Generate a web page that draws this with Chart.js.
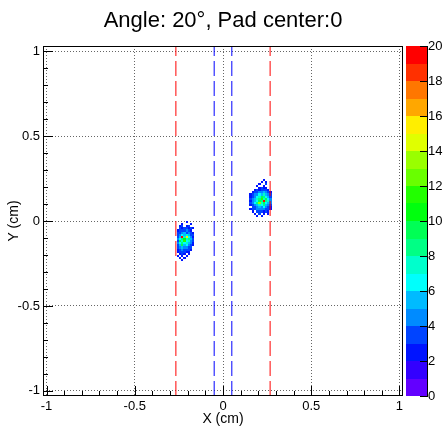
<!DOCTYPE html>
<html>
<head>
<meta charset="utf-8">
<script src="https://cdn.jsdelivr.net/npm/chart.js@4"></script>
<style>
  body { margin: 0; background: #fff; }
  canvas { display: block; }
</style>
</head>
<body>
<canvas id="hist" width="446" height="426"></canvas>
<script>
// -------------------------------
// 1. Histogram data
// -------------------------------
const TITLE = 'Angle: 20°, Pad center:0';
const X_TICKS = [-1, -0.5, 0, 0.5, 1];
const Y_TICKS = [-1, -0.5, 0, 0.5, 1];
const Z_TICKS = [0, 2, 4, 6, 8, 10, 12, 14, 16, 18, 20];
const Z_MAX = 20;
const BIN = 0.0125;  // bin width in cm, both axes

// pad borders (red) and pad center strip (blue), in cm
const padEdges = [-0.267, 0.267];
const centerEdges = [-0.05, 0.05];

// left spot: top-left bin corner (cm) and counts, rows going down in Y
const spotLeftCorner = [-0.2625, 0];
const spotLeftCounts = [
  [0, 0, 0, 0, 2, 0, 0, 0],
  [0, 0, 2, 0, 0, 0, 2, 0],
  [0, 2, 3, 0, 2, 3, 0, 0],
  [0, 3, 2, 3, 3, 2, 3, 2],
  [2, 3, 3, 3, 4, 3, 2, 0],
  [3, 3, 4, 5, 3, 4, 3, 2],
  [3, 4, 6, 5, 7, 5, 3, 3],
  [3, 5, 19, 7, 15, 6, 4, 2],
  [4, 6, 8, 10, 7, 8, 5, 3],
  [3, 9, 7, 11, 6, 7, 4, 3],
  [4, 6, 8, 6, 7, 5, 4, 2],
  [3, 5, 9, 5, 6, 4, 3, 2],
  [3, 4, 5, 4, 4, 3, 3, 0],
  [2, 3, 4, 3, 3, 3, 2, 0],
  [2, 3, 3, 3, 2, 2, 0, 0],
  [0, 2, 3, 2, 0, 2, 0, 0],
  [2, 0, 2, 0, 2, 0, 0, 0],
  [0, 2, 0, 2, 0, 0, 0, 0],
  [0, 0, 2, 0, 0, 0, 0, 0]
];

// right spot
const spotRightCorner = [0.15, 0.25];
const spotRightCounts = [
  [0, 0, 0, 0, 0, 0, 2, 0, 0, 0],
  [0, 0, 0, 0, 0, 2, 0, 2, 0, 0],
  [0, 0, 0, 0, 2, 0, 0, 3, 0, 0],
  [0, 0, 0, 2, 0, 0, 2, 0, 0, 0],
  [0, 0, 0, 0, 2, 3, 2, 2, 0, 0],
  [0, 0, 2, 3, 2, 3, 3, 3, 2, 0],
  [0, 2, 3, 3, 4, 4, 5, 4, 3, 2],
  [2, 3, 4, 4, 6, 5, 7, 5, 4, 3],
  [2, 3, 4, 6, 7, 9, 8, 6, 5, 3],
  [3, 4, 5, 7, 8, 11, 7, 9, 6, 4],
  [2, 4, 5, 6, 9, 8, 19, 8, 7, 4],
  [3, 4, 6, 8, 13, 7, 9, 6, 5, 4],
  [2, 3, 4, 5, 7, 6, 8, 5, 4, 3],
  [0, 3, 3, 4, 5, 4, 6, 4, 3, 2],
  [2, 3, 3, 4, 4, 4, 4, 3, 3, 2],
  [0, 2, 0, 3, 3, 3, 2, 3, 2, 0],
  [0, 0, 2, 0, 3, 0, 2, 0, 2, 0],
  [0, 0, 0, 2, 0, 2, 0, 0, 0, 0]
];

const X_RANGE = [-1.02, 1.02];
const Y_RANGE = [-1.03, 1.03];

// -------------------------------
// 2. Colour palette (violet -> red, 20 levels)
// -------------------------------
function levelColor(level) {
  const idx = Math.floor((level + 0.99) * 50 / Z_MAX);
  const hue = 280 - (idx + 1) * 5.6;
  return `hsl(${hue}, 100%, 50%)`;
}
function countColor(v) {
  return levelColor(Math.min(Z_MAX - 1, Math.floor(v + 0.01)));
}

// -------------------------------
// 3. Plugins: cells, frame + ticks, palette bar
// -------------------------------
const histCells = {
  id: 'histCells',
  beforeDatasetsDraw(chart) {
    const { ctx, scales: { x, y } } = chart;
    ctx.save();
    [[spotLeftCorner, spotLeftCounts], [spotRightCorner, spotRightCounts]].forEach(([corner, rows]) => {
      rows.forEach((row, r) => {
        row.forEach((v, c) => {
          if (v <= 0) return;
          const xa = Math.round(x.getPixelForValue(corner[0] + c * BIN));
          const xb = Math.round(x.getPixelForValue(corner[0] + (c + 1) * BIN));
          const ya = Math.round(y.getPixelForValue(corner[1] - r * BIN));
          const yb = Math.round(y.getPixelForValue(corner[1] - (r + 1) * BIN));
          ctx.fillStyle = countColor(v);
          ctx.fillRect(xa, ya, xb - xa, yb - ya);
        });
      });
    });
    ctx.restore();
  }
};

const frameTicks = {
  id: 'frameTicks',
  afterDatasetsDraw(chart) {
    const { ctx, chartArea: a, scales: { x, y } } = chart;
    ctx.save();
    ctx.strokeStyle = '#000';
    ctx.lineWidth = 1;
    ctx.strokeRect(a.left + 0.5, a.top + 0.5, a.right - a.left - 1, a.bottom - a.top - 1);
    ctx.beginPath();
    for (let i = -10; i <= 10; i++) {
      const v = i / 10;
      const len = i % 5 === 0 ? 10 : 5;
      const px = Math.round(x.getPixelForValue(v)) + 0.5;
      ctx.moveTo(px, a.bottom);
      ctx.lineTo(px, a.bottom - len);
      const py = Math.round(y.getPixelForValue(v)) + 0.5;
      ctx.moveTo(a.left, py);
      ctx.lineTo(a.left + len, py);
    }
    ctx.stroke();
    ctx.restore();
  }
};

const paletteBar = {
  id: 'paletteBar',
  afterDraw(chart) {
    const { ctx } = chart;
    const z = chart.scales.z;
    const x0 = z.left + 3, x1 = z.left + 24;
    ctx.save();
    for (let j = 0; j < Z_MAX; j++) {
      const ya = Math.round(z.getPixelForValue(j));
      const yb = Math.round(z.getPixelForValue(j + 1));
      ctx.fillStyle = levelColor(j);
      ctx.fillRect(x0, yb, x1 - x0, ya - yb);
    }
    ctx.strokeStyle = '#000';
    ctx.lineWidth = 1;
    ctx.beginPath();
    ctx.moveTo(x1 + 0.5, Math.round(z.getPixelForValue(0)));
    ctx.lineTo(x1 + 0.5, Math.round(z.getPixelForValue(Z_MAX)));
    Z_TICKS.forEach(v => {
      const py = Math.round(z.getPixelForValue(v)) + 0.5;
      ctx.moveTo(x1 - 7, py);
      ctx.lineTo(x1 + 1, py);
    });
    ctx.stroke();
    ctx.restore();
  }
};

// -------------------------------
// 4. Chart
// -------------------------------
Chart.defaults.font.family = "'Liberation Sans', Arial, Helvetica, sans-serif";
Chart.defaults.color = '#000';

function boundary(xv, color) {
  return {
    data: [{ x: xv, y: Y_RANGE[0] }, { x: xv, y: Y_RANGE[1] }],
    showLine: true,
    borderColor: color,
    borderWidth: 1,
    borderDash: [15, 5],
    pointRadius: 0
  };
}

const tickFont = { size: 13 };

new Chart(document.getElementById('hist'), {
  type: 'scatter',
  data: {
    datasets: [
      ...padEdges.map(v => boundary(v, '#ff0000')),
      ...centerEdges.map(v => boundary(v, '#0000ff'))
    ]
  },
  options: {
    responsive: false,
    animation: false,
    layout: { padding: 0 },
    plugins: {
      legend: { display: false },
      tooltip: { enabled: false },
      title: {
        display: true,
        text: TITLE,
        color: '#000',
        font: { size: 22, weight: 'normal', lineHeight: 1.2 },
        padding: { top: 8, bottom: 11.6 }
      }
    },
    scales: {
      x: {
        type: 'linear',
        min: X_RANGE[0],
        max: X_RANGE[1],
        afterBuildTicks: s => { s.ticks = X_TICKS.map(v => ({ value: v })); },
        afterFit: s => { s.height = 30; },
        grid: { color: '#666', drawTicks: false },
        border: { display: false, dash: [1, 2] },
        ticks: { font: tickFont, padding: 3, maxRotation: 0, autoSkip: false, callback: v => String(v) },
        title: { display: true, text: 'X (cm)', font: { size: 14, lineHeight: 1 }, padding: 0 }
      },
      y: {
        type: 'linear',
        position: 'left',
        min: Y_RANGE[0],
        max: Y_RANGE[1],
        afterBuildTicks: s => { s.ticks = Y_TICKS.map(v => ({ value: v })); },
        afterFit: s => { s.width = 43; },
        grid: { color: '#666', drawTicks: false },
        border: { display: false, dash: [1, 2] },
        ticks: { font: tickFont, padding: 3, autoSkip: false, callback: v => String(v) },
        title: { display: true, text: 'Y (cm)', font: { size: 14, lineHeight: 1 }, padding: { top: 7, bottom: 0 } }
      },
      z: {
        type: 'linear',
        axis: 'y',
        position: 'right',
        min: 0,
        max: Z_MAX,
        afterBuildTicks: s => { s.ticks = Z_TICKS.map(v => ({ value: v })); },
        afterFit: s => { s.width = 43; },
        // invisible tick marks push the labels past the palette bar
        grid: { drawOnChartArea: false, color: 'rgba(0,0,0,0)', drawTicks: true, tickLength: 23 },
        border: { display: false },
        ticks: { font: tickFont, padding: 2, autoSkip: false }
      }
    }
  },
  plugins: [histCells, frameTicks, paletteBar]
});
</script>
</body>
</html>
